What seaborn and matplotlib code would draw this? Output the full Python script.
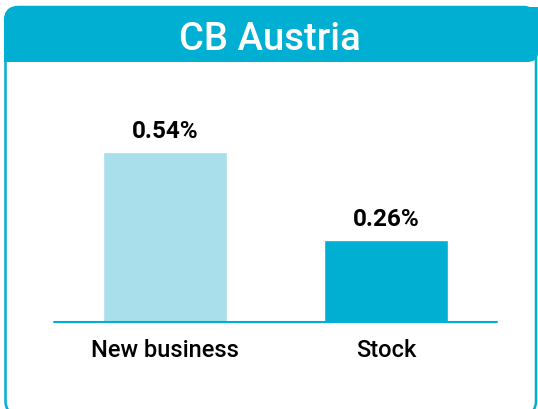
import matplotlib
matplotlib.use("Agg")
import matplotlib.pyplot as plt
import seaborn as sns
import pandas as pd
from matplotlib.path import Path
from matplotlib.patches import PathPatch, FancyBboxPatch

# Data
title = "CB Austria"
categories = ["New business", "Stock"]
values = [0.54, 0.26]
bar_colors = ["#A9DFEB", "#00AFD1"]

TEAL = "#00AFD1"

sns.set_theme(style="white")
plt.rcParams["font.family"] = ["Roboto", "DejaVu Sans"]

W, H = 538, 409
fig = plt.figure(figsize=(W / 100, H / 100), dpi=100)

# Frame layer in pixel coordinates (origin top-left)
frame = fig.add_axes([0, 0, 1, 1])
frame.set_xlim(0, W)
frame.set_ylim(H, 0)
frame.axis("off")

border = FancyBboxPatch((5.5, 7), 530.5, 407, boxstyle="round,pad=0,rounding_size=13",
                        facecolor="white", edgecolor=TEAL, linewidth=1.8, zorder=1)
frame.add_patch(border)

# Header tab: rounded top-left and bottom-right corners
verts = [(4, 62), (4, 20), (4, 7), (18, 7), (538, 7), (538, 53), (538, 62), (527, 62), (4, 62)]
codes = [Path.MOVETO, Path.LINETO, Path.CURVE3, Path.CURVE3, Path.LINETO, Path.LINETO,
         Path.CURVE3, Path.CURVE3, Path.CLOSEPOLY]
frame.add_patch(PathPatch(Path(verts, codes), facecolor=TEAL, edgecolor="none", zorder=2))
frame.text(270, 39, title, ha="center", va="center", color="white",
           fontsize=27.5, fontweight="medium", zorder=3)

# Bar chart
ax = fig.add_axes([54 / W, 87 / H, 443 / W, 220 / H])
ax.patch.set_alpha(0)
df = pd.DataFrame({"category": categories, "value": values})
sns.barplot(data=df, x="category", y="value", hue="category", palette=bar_colors,
            legend=False, width=0.56, saturation=1, ax=ax)
ax.set_xlim(-0.5, 1.5)
ax.set_ylim(0, 0.7)
for container, v in zip(ax.containers, values):
    ax.bar_label(container, labels=[f"{v:.2f}%"], padding=7, fontsize=17.5,
                 fontweight="bold", color="black")
ax.axhline(0, color=TEAL, linewidth=1.5, zorder=5, clip_on=False)
sns.despine(ax=ax, left=True, bottom=True)
ax.set_yticks([])
ax.set_xlabel("")
ax.set_ylabel("")
ax.tick_params(axis="x", length=0, pad=12, labelsize=17, labelcolor="black")
for lbl in ax.get_xticklabels():
    lbl.set_fontweight("medium")

fig.savefig("out.png", dpi=100)
